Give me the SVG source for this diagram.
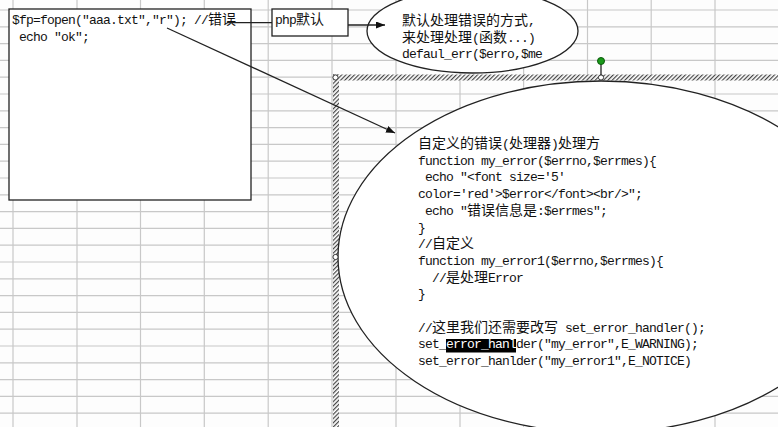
<svg xmlns="http://www.w3.org/2000/svg" width="778" height="427" viewBox="0 0 778 427">
<style>
.m{font-family:"Liberation Mono",monospace;font-size:13px;letter-spacing:-0.8px;fill:#111}
.c{font-family:"Noto Sans CJK SC",sans-serif;font-size:14px;letter-spacing:0}
.shape{fill:#fff;stroke:#222;stroke-width:1.3}
.grid{stroke:#c8c8c8;stroke-width:1.2;fill:none}
.conn{stroke:#222;stroke-width:1.3;fill:none}
.hdl{fill:#fff;stroke:#333;stroke-width:1}
</style>
<defs>
<marker id="ah" markerUnits="userSpaceOnUse" markerWidth="10" markerHeight="8" refX="9" refY="3.5" orient="auto">
<path d="M0,0 L9,3.5 L0,7 z" fill="#111"/>
</marker>
<pattern id="hatch" patternUnits="userSpaceOnUse" width="3" height="3" patternTransform="rotate(45)">
<rect x="0" y="0" width="3" height="3" fill="#fff"/>
<rect x="0" y="0" width="1.2" height="3" fill="#444"/>
</pattern>
</defs>
<rect width="778" height="427" fill="#fdfdfd"/>
<g id="grid" class="grid">
<path d="M13,0V427M77,0V427M140.5,0V427M204.3,0V427M268.2,0V427M332,0V427M396,0V427M460,0V427M523.6,0V427M587.5,0V427M651.2,0V427M715,0V427"/>
<path d="M0,10H778M0,26.8H778M0,43.6H778M0,60.4H778M0,77.2H778M0,94H778M0,110.8H778M0,127.6H778M0,144.4H778M0,161.2H778M0,178H778M0,194.8H778M0,211.6H778M0,228.4H778M0,245.2H778M0,262H778M0,278.8H778M0,295.6H778M0,312.4H778M0,329.2H778M0,346H778M0,362.8H778M0,379.6H778M0,396.4H778M0,413.2H778"/>
</g>
<g id="code-box">
<rect class="shape" x="9" y="9" width="242" height="191"/>
<text class="m" x="12" y="23.5">$fp=fopen("aaa.txt","r"); //<tspan class="c">错误</tspan></text>
<text class="m" x="19" y="40.5">echo "ok";</text>
</g>
<g id="php-default">
<rect class="shape" x="272" y="9" width="76" height="27"/>
<text class="m" x="275" y="24">php<tspan class="c">默认</tspan></text>
</g>
<g id="default-ellipse">
<ellipse class="shape" cx="472.5" cy="31" rx="105.5" ry="42"/>
<text class="m" x="402" y="25"><tspan class="c">默认处理错误的方式</tspan>,</text>
<text class="m" x="402" y="41.5"><tspan class="c">来处理处理</tspan>(<tspan class="c">函数</tspan>...)</text>
<text class="m" x="402" y="57.5">defaul_err($erro,$me</text>
</g>
<g id="selection">
<rect x="333" y="74.5" width="445" height="6" fill="url(#hatch)"/>
<rect x="333" y="74.5" width="6" height="352.5" fill="url(#hatch)"/>
</g>
<g id="custom-ellipse">
<ellipse class="shape" cx="601" cy="257" rx="263" ry="176"/>
<text class="m" x="418" y="148"><tspan class="c">自定义的错误</tspan>(<tspan class="c">处理器</tspan>)<tspan class="c">处理方</tspan></text>
<text class="m" x="418" y="164.7">function my_error($errno,$errmes){</text>
<text class="m" x="425" y="181.4">echo "&lt;font size='5'</text>
<text class="m" x="418" y="198.1">color='red'&gt;$error&lt;/font&gt;&lt;br/&gt;";</text>
<text class="m" x="425" y="214.8">echo "<tspan class="c">错误信息是</tspan>:$errmes";</text>
<text class="m" x="418" y="231.5">}</text>
<text class="m" x="418" y="248.2">//<tspan class="c">自定义</tspan></text>
<text class="m" x="418" y="264.9">function my_error1($errno,$errmes){</text>
<text class="m" x="432" y="281.6">//<tspan class="c">是处理</tspan>Error</text>
<text class="m" x="418" y="298.3">}</text>
<text class="m" x="418" y="331.7">//<tspan class="c">这里我们还需要改写</tspan> set_error_handler();</text>
<rect x="446" y="339" width="70" height="13.5" fill="#000"/>
<text class="m" x="418" y="348.4">set_<tspan fill="#fff">error_hanl</tspan>der("my_error",E_WARNING);</text>
<text class="m" x="418" y="365.1">set_error_hanlder("my_error1",E_NOTICE)</text>
</g>
<g id="handles">
<line x1="601" y1="64" x2="601" y2="75.5" stroke="#111" stroke-width="1.2"/>
<circle cx="601" cy="61" r="3.5" fill="#1a9a1a" stroke="#0a5a0a" stroke-width="1"/>
<circle class="hdl" cx="335.5" cy="77.5" r="2.6"/>
<circle class="hdl" cx="601" cy="77.5" r="2.6"/>
<circle class="hdl" cx="335.5" cy="257" r="2.6"/>
</g>
<g id="connectors" class="conn">
<line x1="227" y1="22.7" x2="272" y2="22.7"/>
<line x1="348" y1="25" x2="385" y2="25" marker-end="url(#ah)"/>
<line x1="167" y1="28" x2="395" y2="133" marker-end="url(#ah)"/>
</g>
</svg>
